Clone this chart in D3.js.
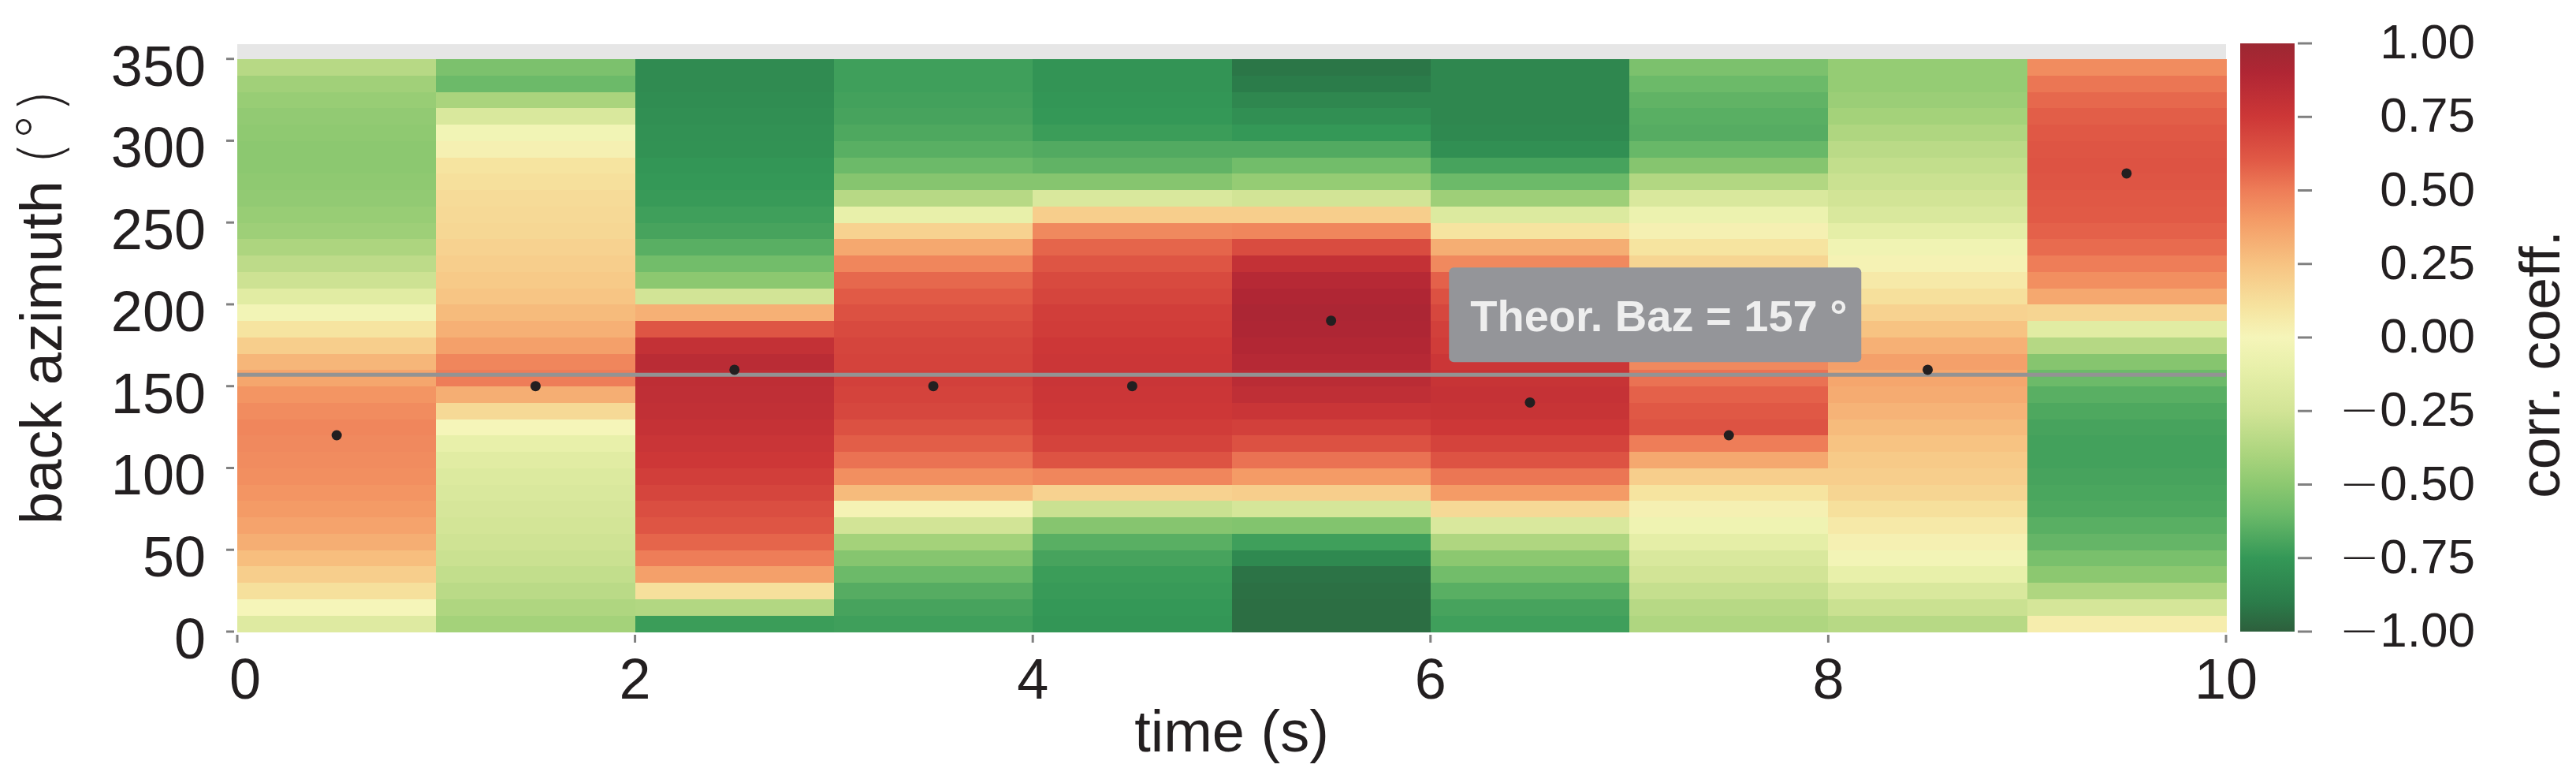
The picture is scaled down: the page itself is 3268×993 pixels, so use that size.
<!DOCTYPE html>
<html><head><meta charset="utf-8">
<script src="https://cdn.jsdelivr.net/npm/d3@7/dist/d3.min.js"></script>
<style>body{margin:0;background:#fff}svg{display:block}</style>
</head><body>
<svg id="chart" width="3268" height="993"></svg>
<script>
// ---- data ----
const timeStart = [0, 1, 2, 3, 4, 5, 6, 7, 8, 9];           // s, each column spans 1 s
const bazStart = [0, 10, 20, 30, 40, 50, 60, 70, 80, 90, 100, 110, 120, 130, 140, 150, 160,
  170, 180, 190, 200, 210, 220, 230, 240, 250, 260, 270, 280, 290, 300, 310, 320, 330, 340]; // deg, 10 deg bins
// correlation coefficient per column, from baz 0 upward
const col0 = [-0.17, 0.00, 0.12, 0.20, 0.27, 0.33, 0.37, 0.40, 0.42, 0.44, 0.45, 0.46, 0.47, 0.45, 0.42, 0.36, 0.30, 0.20, 0.10, -0.02, -0.15, -0.27, -0.33, -0.39, -0.44, -0.46, -0.48, -0.49, -0.50, -0.50, -0.49, -0.48, -0.46, -0.43, -0.35];
const col1 = [-0.42, -0.38, -0.34, -0.31, -0.28, -0.26, -0.24, -0.22, -0.20, -0.18, -0.15, -0.10, 0.00, 0.15, 0.33, 0.50, 0.47, 0.38, 0.32, 0.28, 0.24, 0.22, 0.20, 0.18, 0.16, 0.15, 0.14, 0.12, 0.10, 0.03, -0.03, -0.20, -0.40, -0.60, -0.55];
const col2 = [-0.73, -0.37, 0.12, 0.38, 0.50, 0.57, 0.62, 0.65, 0.69, 0.72, 0.75, 0.77, 0.79, 0.81, 0.82, 0.83, 0.85, 0.80, 0.62, 0.32, -0.25, -0.50, -0.58, -0.65, -0.70, -0.72, -0.74, -0.75, -0.76, -0.78, -0.79, -0.80, -0.81, -0.82, -0.82];
const col3 = [-0.72, -0.70, -0.66, -0.60, -0.52, -0.42, -0.25, 0.02, 0.28, 0.44, 0.53, 0.59, 0.64, 0.68, 0.70, 0.71, 0.70, 0.69, 0.67, 0.64, 0.60, 0.56, 0.47, 0.35, 0.18, -0.10, -0.35, -0.52, -0.60, -0.65, -0.68, -0.70, -0.71, -0.72, -0.72];
const col4 = [-0.76, -0.75, -0.74, -0.73, -0.70, -0.65, -0.52, -0.28, 0.18, 0.47, 0.63, 0.70, 0.73, 0.75, 0.76, 0.77, 0.76, 0.75, 0.73, 0.72, 0.69, 0.67, 0.62, 0.57, 0.46, 0.20, -0.20, -0.52, -0.63, -0.67, -0.73, -0.75, -0.76, -0.77, -0.77];
const col5 = [-0.95, -0.95, -0.94, -0.93, -0.83, -0.72, -0.53, -0.23, 0.20, 0.40, 0.53, 0.64, 0.71, 0.77, 0.82, 0.85, 0.87, 0.89, 0.91, 0.92, 0.90, 0.87, 0.80, 0.66, 0.47, 0.20, -0.25, -0.47, -0.58, -0.67, -0.75, -0.80, -0.84, -0.90, -0.92];
const col6 = [-0.72, -0.70, -0.65, -0.58, -0.50, -0.38, -0.20, 0.15, 0.40, 0.52, 0.63, 0.70, 0.75, 0.78, 0.79, 0.78, 0.76, 0.73, 0.71, 0.68, 0.64, 0.58, 0.46, 0.33, 0.10, -0.18, -0.44, -0.60, -0.70, -0.80, -0.83, -0.84, -0.84, -0.84, -0.84];
const col7 = [-0.38, -0.35, -0.30, -0.25, -0.20, -0.12, -0.05, 0.03, 0.10, 0.20, 0.35, 0.50, 0.63, 0.61, 0.58, 0.53, 0.46, 0.40, 0.35, 0.31, 0.26, 0.22, 0.17, 0.10, 0.03, -0.07, -0.20, -0.37, -0.52, -0.61, -0.66, -0.65, -0.63, -0.60, -0.55];
const col8 = [-0.35, -0.28, -0.20, -0.10, -0.02, 0.03, 0.07, 0.12, 0.17, 0.20, 0.22, 0.25, 0.28, 0.31, 0.34, 0.36, 0.38, 0.32, 0.25, 0.18, 0.12, 0.07, 0.02, -0.04, -0.12, -0.20, -0.25, -0.28, -0.31, -0.34, -0.38, -0.42, -0.45, -0.47, -0.47];
const col9 = [0.05, -0.23, -0.38, -0.50, -0.56, -0.62, -0.65, -0.68, -0.69, -0.70, -0.71, -0.71, -0.70, -0.68, -0.65, -0.60, -0.52, -0.36, -0.15, 0.17, 0.35, 0.44, 0.50, 0.55, 0.58, 0.60, 0.61, 0.62, 0.63, 0.62, 0.61, 0.59, 0.56, 0.52, 0.45];
const columns = [col0, col1, col2, col3, col4, col5, col6, col7, col8, col9];
const theoBaz = 157;
const annotationText = "Theor. Baz = 157 °";
const xTicks = [0, 2, 4, 6, 8, 10];
const yTicks = [0, 50, 100, 150, 200, 250, 300, 350];
const cbTicks = [-1, -0.75, -0.5, -0.25, 0, 0.25, 0.5, 0.75, 1];
// colormap (RdYlGn reversed, as printed)
const cmapStops = [-1, -0.9, -0.75, -0.6, -0.5, -0.4, -0.25, -0.1, 0, 0.1, 0.25, 0.4, 0.5, 0.6, 0.75, 0.9, 1];
const cmapColors = ["#2d5f3c", "#2b7c4a", "#349857", "#6cba69", "#8cc870", "#aad47d", "#d2e496", "#e8f0aa",
  "#f5f5b9", "#f6e4a0", "#f7c382", "#f49b66", "#ee7d58", "#e15a46", "#cd3737", "#b02634", "#9c2832"];

// ---- setup ----
const svg = d3.select("#chart");
const FONT = "'Liberation Sans', Arial, Helvetica, sans-serif";
const TXT = "#231f20";
const x = d3.scaleLinear().domain([0, 10]).range([301, 2824]);
const y = d3.scaleLinear().domain([0, 359]).range([801, 56]);
const color = d3.scaleLinear().domain(cmapStops).range(cmapColors).interpolate(d3.interpolateRgb).clamp(true);

svg.append("rect").attr("width", 3268).attr("height", 993).attr("fill", "#fff");

// axes background
svg.append("rect").attr("x", x(0)).attr("y", y(359)).attr("width", x(10) - x(0)).attr("height", y(0) - y(359)).attr("fill", "#e6e6e6");

// cells
const cells = [];
columns.forEach((col, i) => col.forEach((v, j) => cells.push({t: timeStart[i], b: bazStart[j], v})));
svg.append("g").attr("shape-rendering", "crispEdges").selectAll("rect").data(cells).join("rect")
  .attr("x", d => x(d.t)).attr("width", d => x(d.t + 1) - x(d.t) + 0.5)
  .attr("y", d => y(d.b + 10)).attr("height", d => y(d.b) - y(d.b + 10) + 0.5)
  .attr("fill", d => color(d.v));

// theoretical baz line
svg.append("line").attr("x1", x(0)).attr("x2", x(10)).attr("y1", y(theoBaz)).attr("y2", y(theoBaz))
  .attr("stroke", "#939393").attr("stroke-width", 5);

// max points
const maxPts = columns.map((col, i) => ({t: timeStart[i] + 0.5, b: bazStart[d3.maxIndex(col)]}));
svg.append("g").selectAll("circle").data(maxPts).join("circle")
  .attr("cx", d => x(d.t)).attr("cy", d => y(d.b)).attr("r", 6.5).attr("fill", TXT);

// annotation
const ax = x(6.2), ay = y(183.5);
const ann = svg.append("g");
ann.append("rect").attr("x", ax - 27).attr("y", ay - 81).attr("width", 523).attr("height", 120).attr("rx", 6)
  .attr("fill", "#949599");
ann.append("text").attr("x", ax).attr("y", ay).attr("font-family", FONT).attr("font-weight", "bold")
  .attr("font-size", 56).attr("fill", "#eeeeee").text(annotationText);

// x axis
const gx = svg.append("g");
gx.selectAll("line").data(xTicks).join("line").attr("x1", d => x(d)).attr("x2", d => x(d))
  .attr("y1", 805).attr("y2", 815).attr("stroke", "#808080").attr("stroke-width", 3);
gx.selectAll("text").data(xTicks).join("text").attr("x", d => x(d)).attr("dx", d => d === 0 ? 10 : 0).attr("y", 886)
  .attr("text-anchor", "middle").attr("font-family", FONT).attr("font-size", 72).attr("fill", TXT).text(d => d);
svg.append("text").attr("x", (x(0) + x(10)) / 2).attr("y", 953).attr("text-anchor", "middle")
  .attr("font-family", FONT).attr("font-size", 74).attr("fill", TXT).text("time (s)");

// y axis
const gy = svg.append("g");
gy.selectAll("line").data(yTicks).join("line").attr("x1", 287).attr("x2", 297)
  .attr("y1", d => y(d)).attr("y2", d => y(d)).attr("stroke", "#808080").attr("stroke-width", 3);
gy.selectAll("text").data(yTicks).join("text").attr("x", 261).attr("y", d => y(d) + 34)
  .attr("text-anchor", "end").attr("font-family", FONT).attr("font-size", 72).attr("fill", TXT).text(d => d);
const yl = svg.append("text").attr("transform", "translate(78,665) rotate(-90)")
  .attr("font-family", FONT).attr("font-size", 74).attr("fill", TXT);
yl.append("tspan").text("back azimuth ");
yl.append("tspan").attr("font-family", "'DejaVu Sans'").attr("font-weight", 200).text("(");
yl.append("tspan").attr("font-family", "'DejaVu Sans'").attr("font-weight", 200).attr("dy", -4).text("°");
yl.append("tspan").attr("font-family", "'DejaVu Sans'").attr("font-weight", 200).attr("dy", 4).text(")");

// colorbar
const cb = d3.scaleLinear().domain([-1, 1]).range([801, 55]);
const defs = svg.append("defs");
const grad = defs.append("linearGradient").attr("id", "cbgrad").attr("x1", 0).attr("y1", 1).attr("x2", 0).attr("y2", 0);
grad.selectAll("stop").data(cmapStops).join("stop")
  .attr("offset", d => (d + 1) / 2).attr("stop-color", d => color(d));
svg.append("rect").attr("x", 2842).attr("y", cb(1)).attr("width", 69).attr("height", cb(-1) - cb(1)).attr("fill", "url(#cbgrad)");
const gc = svg.append("g");
gc.selectAll("line").data(cbTicks).join("line").attr("x1", 2915).attr("x2", 2933)
  .attr("y1", d => cb(d)).attr("y2", d => cb(d)).attr("stroke", "#808080").attr("stroke-width", 3);
const cbl = gc.selectAll("text").data(cbTicks).join("text").attr("x", 3140).attr("y", d => cb(d) + 19)
  .attr("text-anchor", "end").attr("font-family", FONT).attr("font-size", 62).attr("fill", TXT);
cbl.each(function(d) {
  const t = d3.select(this);
  if (d < 0) t.append("tspan").attr("font-family", "'DejaVu Sans'").attr("font-weight", 200).text("\u2212");
  t.append("tspan").text(Math.abs(d).toFixed(2));
});
svg.append("text").attr("transform", "translate(3247,462) rotate(-90)").attr("text-anchor", "middle")
  .attr("font-family", FONT).attr("font-size", 73).attr("fill", TXT).text("corr. coeff.");
</script>
</body></html>
